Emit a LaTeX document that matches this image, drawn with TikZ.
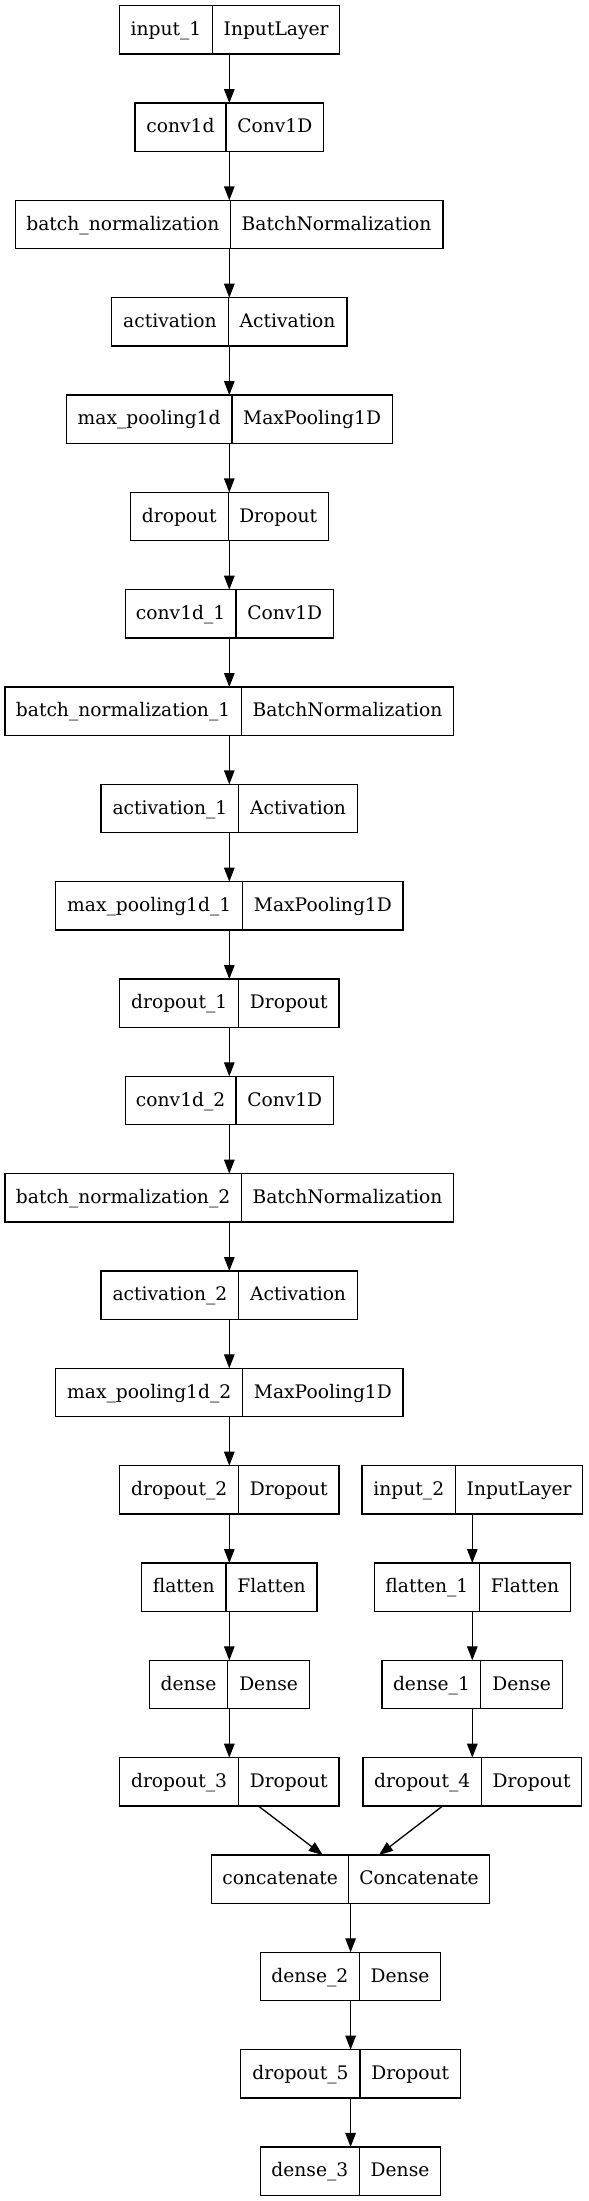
\documentclass[tikz,border=0pt]{standalone}
\usepackage{fontspec}
\setmainfont{DejaVu Serif}
\usetikzlibrary{arrows.meta}
\tikzset{
  layerbox/.style={draw=black, line width=1.3pt, minimum height=48.3pt, inner sep=0pt, outer sep=0pt},
  divline/.style={draw=black, line width=1.3pt},
  layertext/.style={anchor=base, inner sep=0pt, font=\fontsize{18.67pt}{22pt}\selectfont},
  flow/.style={draw=black, line width=1.3pt, -{Triangle[length=14pt,width=10.5pt]}},
}
\newcommand\mylayer[7]{%
  \pgfmathsetmacro\mlyc{29.85+97.33*#3}%
  \pgfmathsetmacro\mlxl{#2-#4/2}%
  \pgfmathsetmacro\mlxr{#2+#4/2}%
  \pgfmathsetmacro\mlta{(\mlxl+#5)/2}%
  \pgfmathsetmacro\mltb{(\mlxr+#5)/2}%
  \pgfmathsetmacro\mlyb{\mlyc+5.7}%
  \pgfmathsetmacro\mlyt{\mlyc-24.15}%
  \pgfmathsetmacro\mlyd{\mlyc+24.15}%
  \node[layerbox, minimum width=#4pt] (#1) at (#2,\mlyc) {};
  \draw[divline] (#5,\mlyt) -- (#5,\mlyd);
  \node[layertext] (#1-n) at (\mlta,\mlyb) {#6};
  \node[layertext] (#1-t) at (\mltb,\mlyb) {#7};
}
\begin{document}
\begin{tikzpicture}[x=1pt,y=-1pt]
\fill[white] (0,0) rectangle (589,2201);
\useasboundingbox (0,0) rectangle (589,2201);
\mylayer{l0}{229.3}{0}{220.2}{212.8}{input\_1}{InputLayer}
\mylayer{l1}{229.3}{1}{188.7}{225.9}{conv1d}{Conv1D}
\mylayer{l2}{229.3}{2}{427.4}{230.2}{batch\_normalization}{BatchNormalization}
\mylayer{l3}{229.3}{3}{235.3}{228.2}{activation}{Activation}
\mylayer{l4}{229.3}{4}{325.9}{231.9}{max\_pooling1d}{MaxPooling1D}
\mylayer{l5}{229.3}{5}{197.7}{228.2}{dropout}{Dropout}
\mylayer{l6}{229.3}{6}{208.2}{236.1}{conv1d\_1}{Conv1D}
\mylayer{l7}{229.3}{7}{448.8}{241.3}{batch\_normalization\_1}{BatchNormalization}
\mylayer{l8}{229.3}{8}{256.4}{238.7}{activation\_1}{Activation}
\mylayer{l9}{229.3}{9}{347.3}{242.8}{max\_pooling1d\_1}{MaxPooling1D}
\mylayer{l10}{229.3}{10}{219.2}{238.7}{dropout\_1}{Dropout}
\mylayer{l11}{229.3}{11}{208.2}{236.1}{conv1d\_2}{Conv1D}
\mylayer{l12}{229.3}{12}{448.8}{241.3}{batch\_normalization\_2}{BatchNormalization}
\mylayer{l13}{229.3}{13}{256.4}{238.7}{activation\_2}{Activation}
\mylayer{l14}{229.3}{14}{347.3}{242.8}{max\_pooling1d\_2}{MaxPooling1D}
\mylayer{l15}{229.3}{15}{219.2}{238.7}{dropout\_2}{Dropout}
\mylayer{r15}{472.3}{15}{220.6}{455.6}{input\_2}{InputLayer}
\mylayer{l16}{229.3}{16}{175.6}{225.9}{flatten}{Flatten}
\mylayer{r16}{472.3}{16}{196.2}{479.6}{flatten\_1}{Flatten}
\mylayer{l17}{229.3}{17}{160.2}{227.8}{dense}{Dense}
\mylayer{r17}{472.3}{17}{180.4}{480.8}{dense\_1}{Dense}
\mylayer{l18}{229.3}{18}{219.2}{238.5}{dropout\_3}{Dropout}
\mylayer{r18}{472.3}{18}{218.8}{481.5}{dropout\_4}{Dropout}
\mylayer{m19}{350.6}{19}{277.6}{348.7}{concatenate}{Concatenate}
\mylayer{m20}{350.6}{20}{180.4}{359.3}{dense\_2}{Dense}
\mylayer{m21}{350.6}{21}{219.6}{360.1}{dropout\_5}{Dropout}
\mylayer{m22}{350.6}{22}{180.4}{359.3}{dense\_3}{Dense}
\foreach \a/\b in {l0/l1,l1/l2,l2/l3,l3/l4,l4/l5,l5/l6,l6/l7,l7/l8,l8/l9,l9/l10,l10/l11,l11/l12,l12/l13,l13/l14,l14/l15,l15/l16,l16/l17,l17/l18,r15/r16,r16/r17,r17/r18,m19/m20,m20/m21,m21/m22}
  \draw[flow] (\a.south) -- (\b.north);
\draw[flow] ([xshift=29pt]l18.south) -- ([xshift=-27.9pt]m19.north);
\draw[flow] ([xshift=-29.6pt]r18.south) -- ([xshift=28.4pt]m19.north);
\end{tikzpicture}
\end{document}
